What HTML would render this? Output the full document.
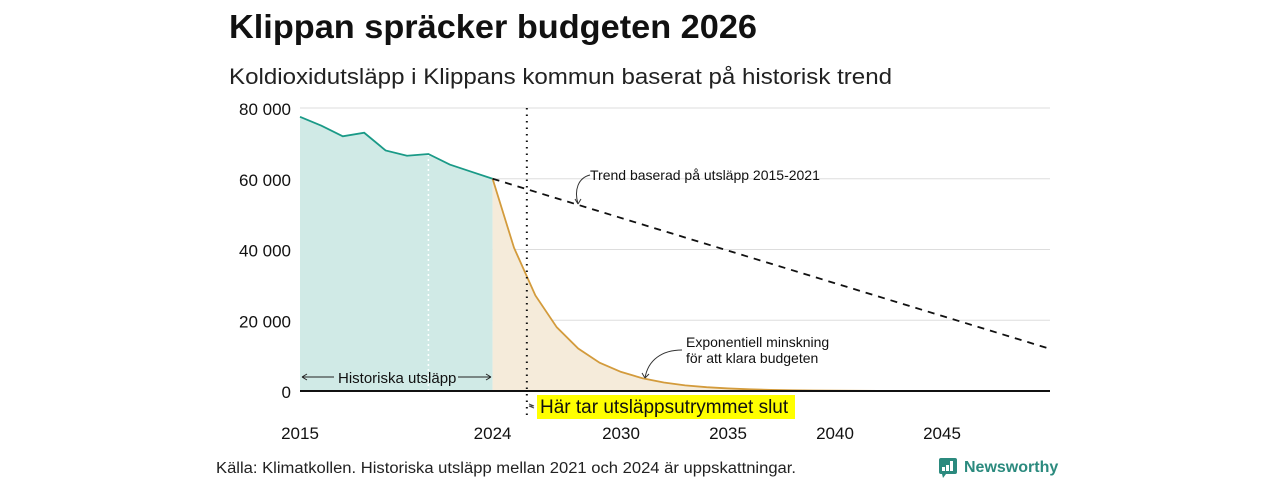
<!DOCTYPE html>
<html><head><meta charset="utf-8">
<style>
body{margin:0;width:1280px;height:480px;background:#fff;overflow:hidden;font-family:"Liberation Sans",sans-serif;}
svg{position:absolute;left:0;top:0}
</style></head>
<body>
<svg id="chart" width="1280" height="480">
<text x="229" y="38" font-size="33" font-weight="bold" fill="#111" textLength="528" lengthAdjust="spacingAndGlyphs">Klippan spräcker budgeten 2026</text>
<text x="229" y="84" font-size="22" fill="#222" textLength="663" lengthAdjust="spacingAndGlyphs">Koldioxidutsläpp i Klippans kommun baserat på historisk trend</text>
<g id="grid"></g>
<g id="marks"></g>
<g id="ann"></g>
<text x="216" y="473" font-size="15.5" fill="#222" textLength="580" lengthAdjust="spacingAndGlyphs">Källa: Klimatkollen. Historiska utsläpp mellan 2021 och 2024 är uppskattningar.</text>
<g>
<rect x="939" y="458" width="18" height="16" rx="2" fill="#2b8a7e"/>
<path d="M942 474 L946 474 L943 478 Z" fill="#2b8a7e"/>
<rect x="942" y="467" width="3" height="4" fill="#fff"/><rect x="946" y="465" width="3" height="6" fill="#fff"/><rect x="950" y="461" width="3" height="10" fill="#fff"/>
<text x="964" y="472" font-size="16" font-weight="bold" fill="#2b8a7e">Newsworthy</text>
</g>
</svg>
<script>
const histYears=[2015,2016,2017,2018,2019,2020,2021,2022,2023,2024];
const histValues=[77500,75000,72000,73000,68000,66500,67000,64000,62000,60000];
const expYears=[2024,2025,2026,2027,2028,2029,2030,2031,2032,2033,2034,2035,2036,2037,2038,2039,2040,2042,2044,2046,2048,2050];
const expValues=[60000,40500,27000,18000,12000,8000,5400,3600,2400,1600,1080,720,480,320,210,140,90,40,20,10,5,2];
const trendYears=[2024,2050];
const trendValues=[60000,12000];
const yTicks=[0,20000,40000,60000,80000];
const yTickLabels=["0","20 000","40 000","60 000","80 000"];
const xTicks=[2015,2024,2030,2035,2040,2045];
const budgetEndYear=2025.6;
const x=y=>300+(y-2015)*(749/35);
const yy=v=>391-v*(283/80000);
const NS="http://www.w3.org/2000/svg";
function mk(t,a,p){const e=document.createElementNS(NS,t);for(const k in a)e.setAttribute(k,a[k]);p.appendChild(e);return e;}
const grid=document.getElementById('grid'),marks=document.getElementById('marks'),ann=document.getElementById('ann');
yTicks.forEach((v,i)=>{
 if(v>0){const l=mk('line',{x1:300,x2:1050,y1:yy(v),y2:yy(v),stroke:'#ddd','stroke-width':1},grid);
 }
 const t=mk('text',{x:291,y:yy(v)+7,'font-size':17,'text-anchor':'end',fill:'#111'},grid);t.textContent=yTickLabels[i];
 
});
xTicks.forEach(v=>{const t=mk('text',{x:x(v),y:439,'font-size':17,'text-anchor':'middle',fill:'#111'},grid);t.textContent=v;
 });
let hp=histYears.map((d,i)=>`${x(d)},${yy(histValues[i])}`).join(' ');
const ha=mk('polygon',{points:`${x(2015)},${yy(0)} ${hp} ${x(2024)},${yy(0)}`,fill:'#d0eae6'},marks);

let ep=expYears.map((d,i)=>`${x(d)},${yy(expValues[i])}`).join(' ');
const ea=mk('polygon',{points:`${x(2024)},${yy(0)} ${ep} ${x(2050)},${yy(0)}`,fill:'#f5ebda'},marks);

const wl=mk('line',{x1:x(2021),x2:x(2021),y1:yy(67000),y2:yy(0),stroke:'#fff','stroke-width':1.5,'stroke-dasharray':'2,3'},marks);

const hl=mk('polyline',{points:hp,fill:'none',stroke:'#1a9a87','stroke-width':1.8},marks);

const el=mk('polyline',{points:ep,fill:'none',stroke:'#d39b3c','stroke-width':1.8},marks);

const tl=mk('line',{x1:x(trendYears[0]),y1:yy(trendValues[0]),x2:x(trendYears[1]),y2:yy(trendValues[1]),stroke:'#111','stroke-width':1.8,'stroke-dasharray':'7,6'},marks);

const zl=mk('line',{x1:300,x2:1050,y1:yy(0),y2:yy(0),stroke:'#111','stroke-width':2},marks);

const bl=mk('line',{x1:x(budgetEndYear),x2:x(budgetEndYear),y1:108,y2:418,stroke:'#111','stroke-width':2,'stroke-dasharray':'1.5,5'},marks);

ann.innerHTML=`
<g>
<line x1="302" y1="377" x2="334" y2="377" stroke="#222"/><path d="M302 377 l5 -3 M302 377 l5 3" stroke="#222" fill="none"/>
<text x="338" y="383" font-size="15" fill="#111">Historiska utsläpp</text>
<line x1="458" y1="377" x2="491" y2="377" stroke="#222"/><path d="M491 377 l-5 -3 M491 377 l-5 3" stroke="#222" fill="none"/>
</g>
<g>
<rect x="537" y="395" width="258" height="24" fill="#ffff00"/>
<text x="540" y="413" font-size="19" fill="#111">Här tar utsläppsutrymmet slut</text>
<path d="M534 406 l-5 -2 M529 406 l5 2 M529 406 h4" stroke="#444" fill="none"/>
</g>
<g>
<text x="590" y="180" font-size="14" fill="#111">Trend baserad på utsläpp 2015-2021</text>
<path d="M590 175 C578 178 574 190 578 204" stroke="#333" fill="none"/><path d="M578 204 l-3 -5 M578 204 l3 -5" stroke="#333" fill="none"/>
</g>
<g>
<text x="686" y="347" font-size="14" fill="#111">Exponentiell minskning</text>
<text x="686" y="363" font-size="14" fill="#111">för att klara budgeten</text>
<path d="M682 350 C662 350 648 360 645 378" stroke="#333" fill="none"/><path d="M645 378 l-3 -5 M645 378 l4 -4" stroke="#333" fill="none"/>
</g>`;
</script>
</body></html>
